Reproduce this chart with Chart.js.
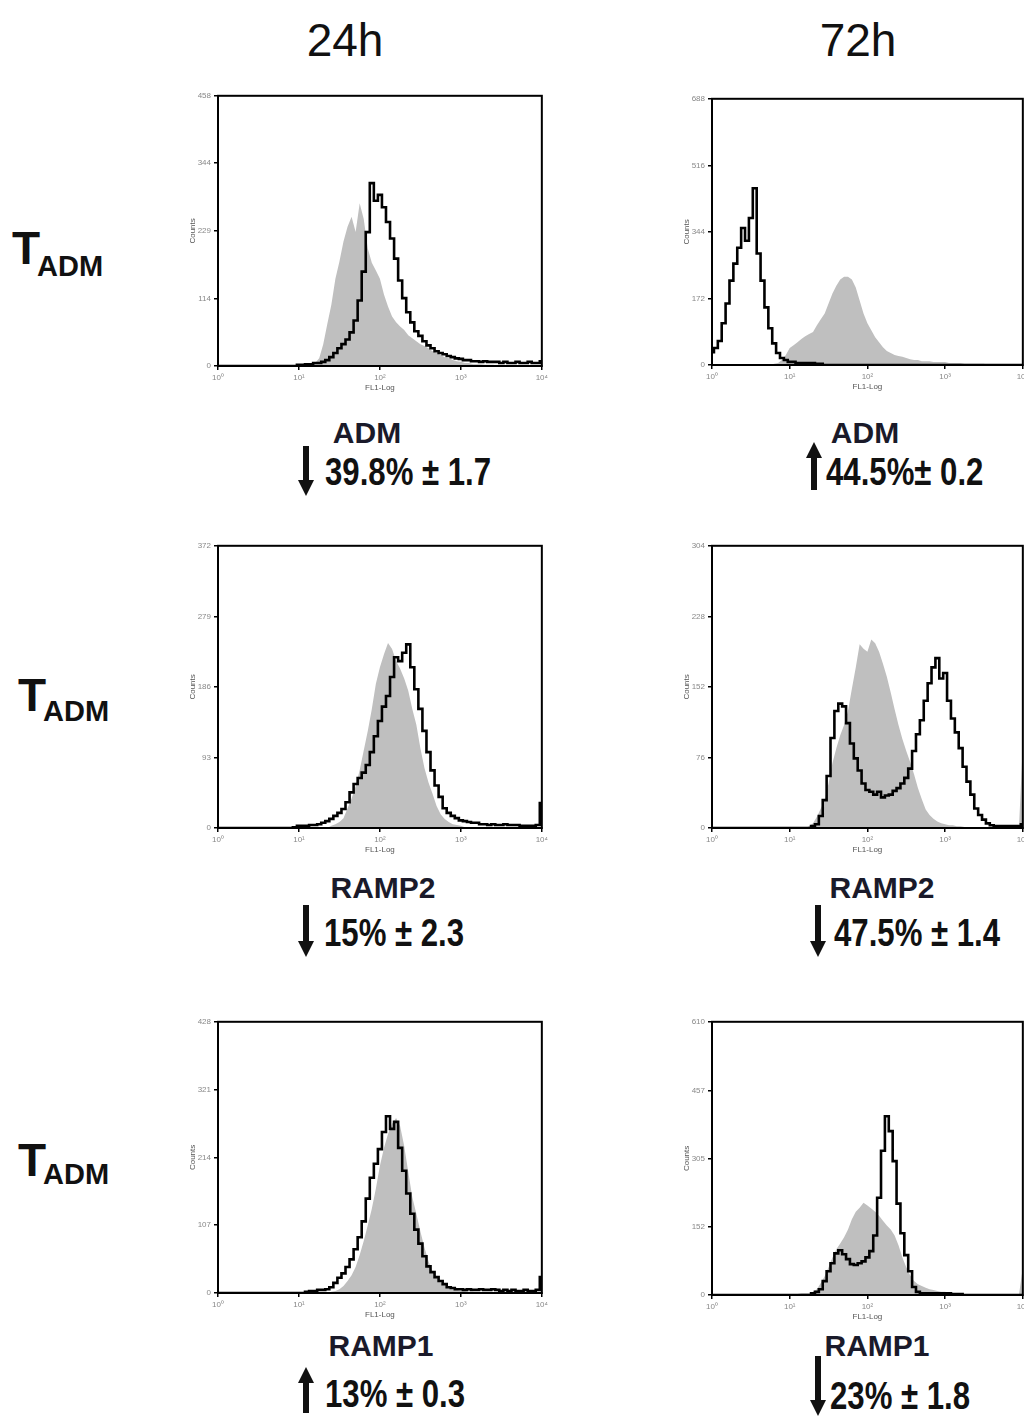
<!DOCTYPE html>
<html>
<head>
<meta charset="utf-8">
<script src="https://cdn.jsdelivr.net/npm/chart.js@4.4.0/dist/chart.umd.min.js"></script>
<style>
    html, body { margin: 0; padding: 0; background: #fff; }
    body { width: 1024px; height: 1417px; overflow: hidden; position: relative; font-family: "Liberation Sans", Arial, sans-serif; }
    .txt { position: absolute; white-space: nowrap; line-height: 1; color: #111; }
    .panel { position: absolute; }
    .arrow { position: absolute; }
</style>
</head>
<body>
<script>
// FL1 channel position, in decades (10^0 .. 10^4)
const channel = [
    0, 0.05, 0.1, 0.15, 0.2, 0.25, 0.3, 0.35, 0.4, 0.45, 0.5, 0.55, 0.6, 0.65, 0.7, 0.75, 0.8, 0.85, 0.9, 0.95,
    1, 1.05, 1.1, 1.15, 1.2, 1.25, 1.3, 1.35, 1.4, 1.45, 1.5, 1.55, 1.6, 1.65, 1.7, 1.75, 1.8, 1.85, 1.9, 1.95,
    2, 2.05, 2.1, 2.15, 2.2, 2.25, 2.3, 2.35, 2.4, 2.45, 2.5, 2.55, 2.6, 2.65, 2.7, 2.75, 2.8, 2.85, 2.9, 2.95,
    3, 3.05, 3.1, 3.15, 3.2, 3.25, 3.3, 3.35, 3.4, 3.45, 3.5, 3.55, 3.6, 3.65, 3.7, 3.75, 3.8, 3.85, 3.9, 3.95,
    4
];
const decadeTicks = [0, 1, 2, 3, 4];
const decadeLabels = ['10\u2070', '10\u00b9', '10\u00b2', '10\u00b3', '10\u2074'];

// 24h ADM
const adm24Control = [
    0, 0, 0, 0, 0, 0, 0, 0, 0, 0, 0, 0, 0, 0, 0, 0, 0, 0, 0, 0,
    0, 0, 0, 2, 5, 13, 37, 71, 104, 148, 177, 211, 236, 253, 227, 276, 249, 199, 175, 162,
    148, 121, 101, 84, 74, 67, 61, 52, 47, 42, 37, 34, 30, 25, 22, 19, 15, 13, 10, 8,
    7, 5, 5, 3, 3, 3, 2, 2, 2, 1, 1, 1, 1, 1, 1, 1, 1, 1, 1, 1,
    1
];
const adm24Treated = [
    0, 0, 0, 0, 0, 0, 0, 0, 0, 0, 0, 0, 0, 0, 0, 0, 0, 0, 0, 0,
    2, 2, 3, 3, 5, 5, 7, 10, 15, 22, 30, 37, 45, 57, 77, 111, 160, 227, 310, 280,
    290, 269, 244, 216, 182, 145, 115, 91, 74, 59, 51, 42, 35, 30, 25, 22, 20, 17, 15, 13,
    12, 10, 10, 8, 8, 7, 8, 7, 7, 7, 5, 7, 5, 5, 7, 5, 5, 7, 5, 5,
    8
];
const adm24Ticks = [0, 114, 229, 344, 458];

// 72h ADM
const adm72Control = [
    0, 0, 0, 0, 0, 0, 0, 0, 0, 0, 0, 0, 0, 0, 0, 0, 3, 5, 13, 26,
    44, 51, 59, 67, 74, 80, 85, 103, 118, 133, 159, 185, 205, 221, 228, 228, 221, 200, 167, 133,
    108, 90, 72, 59, 46, 36, 31, 26, 23, 21, 18, 15, 13, 13, 10, 10, 10, 8, 8, 8,
    8, 5, 5, 5, 5, 3, 3, 3, 3, 3, 3, 0, 0, 0, 0, 0, 0, 0, 0, 0,
    0
];
const adm72Treated = [
    33, 44, 62, 108, 159, 218, 262, 303, 354, 321, 380, 457, 288, 218, 149, 95, 56, 31, 18, 13,
    8, 8, 5, 5, 5, 5, 5, 3, 3, 0, 0, 0, 0, 0, 0, 0, 0, 0, 0, 0,
    0, 0, 0, 0, 0, 0, 0, 0, 0, 0, 0, 0, 0, 0, 0, 0, 0, 0, 0, 0,
    0, 0, 0, 0, 0, 0, 0, 0, 0, 0, 0, 0, 0, 0, 0, 0, 0, 0, 0, 0,
    0
];
const adm72Ticks = [0, 172, 344, 516, 688];

// 24h RAMP2
const ramp2At24Control = [
    0, 0, 0, 0, 0, 0, 0, 0, 0, 0, 0, 0, 0, 0, 0, 0, 0, 0, 0, 0,
    0, 0, 0, 0, 0, 0, 0, 0, 3, 5, 8, 13, 26, 39, 55, 76, 102, 128, 157, 190,
    212, 229, 244, 236, 220, 210, 197, 181, 157, 136, 105, 79, 60, 45, 29, 18, 12, 8, 5, 4,
    3, 1, 1, 0, 0, 0, 0, 0, 0, 0, 0, 0, 0, 0, 0, 0, 0, 0, 0, 0,
    0
];
const ramp2At24Treated = [
    0, 0, 0, 0, 0, 0, 0, 0, 0, 0, 0, 0, 0, 0, 0, 0, 0, 0, 0, 1,
    3, 3, 3, 4, 4, 5, 7, 9, 12, 16, 20, 25, 34, 47, 58, 66, 73, 83, 100, 121,
    141, 160, 174, 199, 225, 220, 231, 242, 212, 183, 157, 128, 100, 76, 56, 41, 26, 20, 16, 13,
    10, 9, 8, 7, 7, 5, 5, 4, 5, 4, 4, 5, 4, 4, 4, 3, 3, 3, 3, 4,
    33
];
const ramp2At24Ticks = [0, 93, 186, 279, 372];

// 72h RAMP2
const ramp2At72Control = [
    0, 0, 0, 0, 0, 0, 0, 0, 0, 0, 0, 0, 0, 0, 0, 0, 0, 0, 0, 0,
    0, 0, 0, 0, 0, 2, 5, 12, 21, 30, 48, 70, 86, 100, 111, 126, 150, 173, 198, 193,
    190, 203, 199, 190, 177, 163, 146, 128, 111, 96, 83, 71, 58, 43, 31, 20, 14, 10, 7, 5,
    4, 3, 3, 2, 2, 1, 1, 0, 0, 0, 0, 0, 0, 0, 0, 0, 0, 0, 0, 0,
    91
];
const ramp2At72Treated = [
    0, 0, 0, 0, 0, 0, 0, 0, 0, 0, 0, 0, 0, 0, 0, 0, 0, 0, 0, 0,
    0, 0, 0, 0, 0, 0, 2, 4, 13, 30, 56, 97, 126, 134, 131, 113, 91, 75, 62, 48,
    41, 39, 36, 39, 33, 35, 36, 40, 43, 48, 54, 64, 83, 101, 116, 137, 156, 173, 183, 161,
    167, 137, 118, 103, 86, 66, 50, 36, 21, 14, 9, 5, 3, 2, 2, 2, 2, 2, 2, 2,
    4
];
const ramp2At72Ticks = [0, 76, 152, 228, 304];

// 24h RAMP1
const ramp1At24Control = [
    0, 0, 0, 0, 0, 0, 0, 0, 0, 0, 0, 0, 0, 0, 0, 0, 0, 0, 0, 0,
    0, 0, 0, 0, 0, 0, 0, 0, 2, 3, 6, 11, 19, 28, 41, 60, 82, 107, 133, 165,
    201, 229, 251, 267, 276, 263, 232, 191, 151, 125, 97, 72, 50, 34, 24, 17, 13, 9, 6, 5,
    3, 3, 2, 2, 0, 0, 0, 0, 0, 0, 0, 0, 0, 0, 0, 0, 0, 0, 0, 0,
    0
];
const ramp1At24Treated = [
    0, 0, 0, 0, 0, 0, 0, 0, 0, 0, 0, 0, 0, 0, 0, 0, 0, 0, 0, 0,
    0, 0, 2, 3, 3, 5, 5, 6, 9, 16, 24, 31, 41, 53, 69, 88, 113, 149, 182, 204,
    227, 254, 279, 259, 270, 229, 193, 157, 125, 100, 78, 58, 42, 33, 25, 19, 14, 9, 8, 6,
    6, 5, 6, 5, 5, 6, 5, 5, 6, 5, 3, 5, 3, 5, 3, 3, 5, 3, 3, 5,
    25
];
const ramp1At24Ticks = [0, 107, 214, 321, 428];

// 72h RAMP1
const ramp1At72Control = [
    0, 0, 0, 0, 0, 0, 0, 0, 0, 0, 0, 0, 0, 0, 0, 0, 0, 0, 0, 0,
    2, 2, 2, 4, 4, 4, 7, 13, 27, 42, 62, 84, 102, 115, 129, 146, 169, 186, 195, 206,
    200, 193, 186, 177, 166, 155, 146, 133, 111, 84, 62, 44, 31, 24, 20, 16, 13, 11, 9, 7,
    7, 4, 4, 2, 2, 0, 0, 0, 0, 0, 0, 0, 0, 0, 0, 0, 0, 0, 0, 0,
    62
];
const ramp1At72Treated = [
    0, 0, 0, 0, 0, 0, 0, 0, 0, 0, 0, 0, 0, 0, 0, 0, 0, 0, 0, 0,
    0, 0, 0, 0, 0, 0, 4, 7, 13, 31, 53, 71, 93, 100, 91, 80, 69, 67, 71, 75,
    84, 98, 133, 217, 322, 399, 366, 299, 204, 138, 89, 53, 18, 7, 4, 4, 4, 4, 4, 4,
    4, 4, 2, 2, 2, 0, 0, 0, 0, 0, 0, 0, 0, 0, 0, 0, 0, 0, 0, 0,
    0
];
const ramp1At72Ticks = [0, 152, 305, 457, 610];

// captions under each histogram
const timepoints = ['24h', '72h'];
const geneNames = ['ADM', 'ADM', 'RAMP2', 'RAMP2', 'RAMP1', 'RAMP1'];
const changeTexts = ['39.8% \u00b1 1.7', '44.5%\u00b1 0.2', '15% \u00b1 2.3', '47.5% \u00b1 1.4', '13% \u00b1 0.3', '23% \u00b1 1.8'];
const changeDirs = ['down', 'up', 'down', 'down', 'up', 'down'];

const FONT = '"Liberation Sans", Arial, sans-serif';

// plot area boxes [left, top, width, height] and caption placement
const panels = [
    { control: adm24Control, treated: adm24Treated, ticks: adm24Ticks, box: [218, 94, 325, 272],
      gene: [367, 433], value: [325, 472], arrow: [298, 446, 50] },
    { control: adm72Control, treated: adm72Treated, ticks: adm72Ticks, box: [712, 97, 312, 268],
      gene: [865, 433], value: [826, 472], arrow: [806, 442, 48] },
    { control: ramp2At24Control, treated: ramp2At24Treated, ticks: ramp2At24Ticks, box: [218, 544, 325, 284],
      gene: [383, 888], value: [324, 933], arrow: [298, 905, 52] },
    { control: ramp2At72Control, treated: ramp2At72Treated, ticks: ramp2At72Ticks, box: [712, 544, 312, 284],
      gene: [882, 888], value: [834, 933], arrow: [810, 905, 52] },
    { control: ramp1At24Control, treated: ramp1At24Treated, ticks: ramp1At24Ticks, box: [218, 1020, 325, 273],
      gene: [381, 1346], value: [325, 1394], arrow: [298, 1367, 46] },
    { control: ramp1At72Control, treated: ramp1At72Treated, ticks: ramp1At72Ticks, box: [712, 1020, 312, 275],
      gene: [877, 1346], value: [830, 1396], arrow: [810, 1356, 60] }
];

// Draws the closed black frame around the plot area
const framePlugin = {
    id: 'frame',
    afterDatasetsDraw(chart) {
        const { ctx, chartArea: a } = chart;
        ctx.save();
        ctx.strokeStyle = '#000';
        ctx.lineWidth = 2;
        ctx.strokeRect(a.left, a.top, a.right - a.left, a.bottom - a.top);
        ctx.restore();
    }
};

function addText(text, x, y, css, anchor) {
    const d = document.createElement('div');
    d.className = 'txt';
    d.textContent = text;
    d.style.left = x + 'px';
    d.style.top = y + 'px';
    Object.assign(d.style, css);
    d.style.transform = anchor;
    document.body.appendChild(d);
    return d;
}

function addArrow(x, top, h, dir) {
    const w = 16, head = 16;
    let shapes;
    if (dir === 'down') {
        shapes = `<rect x="5" y="0" width="6" height="${h - head + 2}"/>` +
                 `<polygon points="0,${h - head} ${w},${h - head} ${w / 2},${h}"/>`;
    } else {
        shapes = `<polygon points="${w / 2},0 0,${head} ${w},${head}"/>` +
                 `<rect x="5" y="${head - 2}" width="6" height="${h - head + 2}"/>`;
    }
    const d = document.createElement('div');
    d.className = 'arrow';
    d.style.left = x + 'px';
    d.style.top = top + 'px';
    d.innerHTML = `<svg width="${w}" height="${h}" fill="#111">${shapes}</svg>`;
    document.body.appendChild(d);
}

function makePanel(p) {
    const padTop = 6, padRight = 8, yW = 34, xH = 31;
    const [L, T, W, H] = p.box;

    const wrap = document.createElement('div');
    wrap.className = 'panel';
    wrap.style.left = (L - yW) + 'px';
    wrap.style.top = (T - padTop) + 'px';
    const canvas = document.createElement('canvas');
    canvas.width = yW + W + padRight;
    canvas.height = padTop + H + xH;
    canvas.style.width = canvas.width + 'px';
    canvas.style.height = canvas.height + 'px';
    wrap.appendChild(canvas);
    document.body.appendChild(wrap);

    const tickFont = { size: 8, family: FONT };

    new Chart(canvas.getContext('2d'), {
        type: 'line',
        data: {
            datasets: [
                {
                    label: 'treated',
                    data: channel.map((c, i) => ({ x: c, y: p.treated[i] })),
                    borderColor: '#000',
                    borderWidth: 2.6,
                    pointRadius: 0,
                    fill: false,
                    stepped: 'middle',
                    order: 0
                },
                {
                    label: 'control',
                    data: channel.map((c, i) => ({ x: c, y: p.control[i] })),
                    borderWidth: 0,
                    borderColor: 'rgba(0,0,0,0)',
                    backgroundColor: '#bfbfbf',
                    pointRadius: 0,
                    fill: 'origin',
                    tension: 0,
                    order: 1
                }
            ]
        },
        options: {
            responsive: false,
            animation: false,
            layout: { padding: { top: padTop, right: padRight, left: 0, bottom: 0 } },
            plugins: { legend: { display: false }, tooltip: { enabled: false } },
            scales: {
                x: {
                    type: 'linear',
                    min: 0,
                    max: 4,
                    afterBuildTicks: (s) => { s.ticks = decadeTicks.map(v => ({ value: v })); },
                    afterFit: (s) => { s.height = xH; },
                    ticks: {
                        autoSkip: false,
                        maxRotation: 0,
                        padding: 3,
                        color: '#888',
                        font: tickFont,
                        callback: (v, i) => decadeLabels[i]
                    },
                    grid: { drawOnChartArea: false, tickLength: 4, color: '#000', lineWidth: 1.5 },
                    border: { color: '#000', width: 2 },
                    title: { display: true, text: 'FL1-Log', color: '#555', font: tickFont, padding: { top: 0, bottom: 4 } }
                },
                y: {
                    min: 0,
                    max: p.ticks[p.ticks.length - 1],
                    afterBuildTicks: (s) => { s.ticks = p.ticks.map(v => ({ value: v })); },
                    afterFit: (s) => { s.width = yW; },
                    ticks: { padding: 3, color: '#888', font: tickFont },
                    grid: { drawOnChartArea: false, tickLength: 4, color: '#000', lineWidth: 1.5 },
                    border: { color: '#000', width: 2 },
                    title: { display: true, text: 'Counts', color: '#555', font: tickFont, padding: { top: 4, bottom: 0 } }
                }
            }
        },
        plugins: [framePlugin]
    });
}

// column titles
addText(timepoints[0], 345, 40, { fontSize: '46px' }, 'translate(-50%, -50%)');
addText(timepoints[1], 858, 40, { fontSize: '46px' }, 'translate(-50%, -50%)');

// row labels T with subscript ADM
const rowLabels = [[12, 248, 266], [18, 695, 711], [18, 1160, 1174]];
rowLabels.forEach(([x, yT, yS]) => {
    addText('T', x, yT, { fontSize: '46px', fontWeight: 'bold' }, 'translate(0, -50%)');
    addText('ADM', x + 25, yS, { fontSize: '29px', fontWeight: 'bold' }, 'translate(0, -50%)');
});

panels.forEach((p, i) => {
    makePanel(p);
    addText(geneNames[i], p.gene[0], p.gene[1], { fontSize: '30px', fontWeight: 'bold', color: '#1a1a2a' },
        'translate(-50%, -50%)');
    const v = addText(changeTexts[i], p.value[0], p.value[1], { fontSize: '38px', fontWeight: 'bold' },
        'translate(0, -50%) scaleX(0.82)');
    v.style.transformOrigin = '0 50%';
    addArrow(p.arrow[0], p.arrow[1], p.arrow[2], changeDirs[i]);
});
</script>
</body>
</html>
